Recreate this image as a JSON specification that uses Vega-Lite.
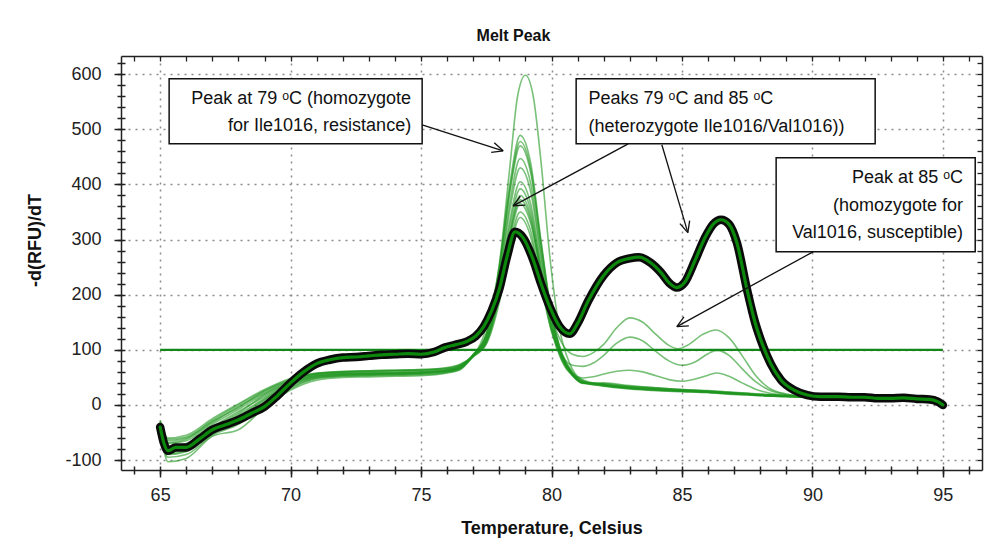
{
 "$schema": "https://vega.github.io/schema/vega-lite/v6.json",
 "width": 861, "height": 414,
 "autosize": {"type": "none"},
 "padding": {"left": 121, "top": 56, "right": 20, "bottom": 82},
 "background": "white",
 "config": {"view": {"stroke": null}, "font": "Liberation Sans"},
 "title": {"text": "Melt Peak", "fontSize": 16, "fontWeight": "bold", "font": "Liberation Sans", "color": "#111", "anchor": "middle", "dx": -38, "offset": -2, "baseline": "alphabetic"},
 "datasets": {
  "light": [
   {"s":"L1","t":65,"v":-28},{"s":"L1","t":65.3,"v":-60},{"s":"L1","t":66,"v":-55},{"s":"L1","t":67,"v":-25},{"s":"L1","t":68,"v":2},{"s":"L1","t":69,"v":28},{"s":"L1","t":70,"v":48},{"s":"L1","t":71,"v":58},{"s":"L1","t":72,"v":60},{"s":"L1","t":73,"v":61},{"s":"L1","t":74,"v":62},{"s":"L1","t":75,"v":63},{"s":"L1","t":76,"v":66},{"s":"L1","t":76.5,"v":72},{"s":"L1","t":77,"v":88},{"s":"L1","t":77.5,"v":140},{"s":"L1","t":78,"v":255},{"s":"L1","t":78.4,"v":430},{"s":"L1","t":78.7,"v":560},{"s":"L1","t":79,"v":598},{"s":"L1","t":79.3,"v":560},{"s":"L1","t":79.6,"v":440},{"s":"L1","t":79.95,"v":263},{"s":"L1","t":80.3,"v":140},{"s":"L1","t":80.7,"v":75},{"s":"L1","t":81.1,"v":48},{"s":"L1","t":82,"v":36},{"s":"L1","t":83,"v":31},{"s":"L1","t":84,"v":28},{"s":"L1","t":85,"v":26},{"s":"L1","t":86,"v":24},{"s":"L1","t":87,"v":21},{"s":"L1","t":88,"v":18},{"s":"L1","t":89,"v":16},{"s":"L1","t":90,"v":14},{"s":"L1","t":92,"v":12},{"s":"L1","t":94,"v":10},{"s":"L1","t":95,"v":6},

   {"s":"L2","t":65,"v":-35},{"s":"L2","t":65.3,"v":-70},{"s":"L2","t":66,"v":-65},{"s":"L2","t":67,"v":-35},{"s":"L2","t":68,"v":-8},{"s":"L2","t":69,"v":20},{"s":"L2","t":70,"v":42},{"s":"L2","t":71,"v":55},{"s":"L2","t":72,"v":58},{"s":"L2","t":73,"v":58},{"s":"L2","t":74,"v":59},{"s":"L2","t":75,"v":60},{"s":"L2","t":76,"v":64},{"s":"L2","t":76.5,"v":70},{"s":"L2","t":77,"v":92},{"s":"L2","t":77.5,"v":129},{"s":"L2","t":78,"v":252},{"s":"L2","t":78.4,"v":399},{"s":"L2","t":78.8,"v":489},{"s":"L2","t":79.2,"v":439},{"s":"L2","t":79.6,"v":298},{"s":"L2","t":80,"v":167},{"s":"L2","t":80.4,"v":94},{"s":"L2","t":80.8,"v":60},{"s":"L2","t":81.2,"v":44},{"s":"L2","t":82,"v":35},{"s":"L2","t":83,"v":30},{"s":"L2","t":84,"v":27},{"s":"L2","t":85,"v":25},{"s":"L2","t":86,"v":23},{"s":"L2","t":87,"v":20},{"s":"L2","t":88,"v":17},{"s":"L2","t":89,"v":15},{"s":"L2","t":90,"v":13},{"s":"L2","t":92,"v":11},{"s":"L2","t":94,"v":9},{"s":"L2","t":95,"v":5},

   {"s":"L3","t":65,"v":-40},{"s":"L3","t":65.3,"v":-80},{"s":"L3","t":66,"v":-75},{"s":"L3","t":67,"v":-45},{"s":"L3","t":68,"v":-18},{"s":"L3","t":69,"v":12},{"s":"L3","t":70,"v":38},{"s":"L3","t":71,"v":52},{"s":"L3","t":72,"v":55},{"s":"L3","t":73,"v":56},{"s":"L3","t":74,"v":57},{"s":"L3","t":75,"v":58},{"s":"L3","t":76,"v":62},{"s":"L3","t":76.5,"v":68},{"s":"L3","t":77,"v":91},{"s":"L3","t":77.5,"v":128},{"s":"L3","t":78,"v":247},{"s":"L3","t":78.4,"v":390},{"s":"L3","t":78.8,"v":478},{"s":"L3","t":79.2,"v":429},{"s":"L3","t":79.6,"v":292},{"s":"L3","t":80,"v":165},{"s":"L3","t":80.4,"v":92},{"s":"L3","t":80.8,"v":58},{"s":"L3","t":81.2,"v":43},{"s":"L3","t":82,"v":37},{"s":"L3","t":83,"v":32},{"s":"L3","t":84,"v":29},{"s":"L3","t":85,"v":27},{"s":"L3","t":86,"v":24},{"s":"L3","t":87,"v":21},{"s":"L3","t":88,"v":18},{"s":"L3","t":89,"v":16},{"s":"L3","t":90,"v":14},{"s":"L3","t":92,"v":12},{"s":"L3","t":94,"v":10},{"s":"L3","t":95,"v":6},

   {"s":"L4","t":65,"v":-45},{"s":"L4","t":65.3,"v":-95},{"s":"L4","t":66,"v":-90},{"s":"L4","t":67,"v":-55},{"s":"L4","t":68,"v":-35},{"s":"L4","t":69,"v":0},{"s":"L4","t":70,"v":30},{"s":"L4","t":71,"v":48},{"s":"L4","t":72,"v":52},{"s":"L4","t":73,"v":53},{"s":"L4","t":74,"v":54},{"s":"L4","t":75,"v":56},{"s":"L4","t":76,"v":60},{"s":"L4","t":76.5,"v":66},{"s":"L4","t":77,"v":91},{"s":"L4","t":77.5,"v":127},{"s":"L4","t":78,"v":244},{"s":"L4","t":78.4,"v":384},{"s":"L4","t":78.8,"v":470},{"s":"L4","t":79.2,"v":422},{"s":"L4","t":79.6,"v":288},{"s":"L4","t":80,"v":163},{"s":"L4","t":80.4,"v":91},{"s":"L4","t":80.8,"v":58},{"s":"L4","t":81.2,"v":42},{"s":"L4","t":82,"v":34},{"s":"L4","t":83,"v":29},{"s":"L4","t":84,"v":26},{"s":"L4","t":85,"v":24},{"s":"L4","t":86,"v":22},{"s":"L4","t":87,"v":19},{"s":"L4","t":88,"v":17},{"s":"L4","t":89,"v":15},{"s":"L4","t":90,"v":13},{"s":"L4","t":92,"v":11},{"s":"L4","t":94,"v":9},{"s":"L4","t":95,"v":5},

   {"s":"L5","t":65,"v":-38},{"s":"L5","t":65.3,"v":-103},{"s":"L5","t":66,"v":-97},{"s":"L5","t":67,"v":-57},{"s":"L5","t":68,"v":-45},{"s":"L5","t":69,"v":-5},{"s":"L5","t":70,"v":27},{"s":"L5","t":71,"v":45},{"s":"L5","t":72,"v":50},{"s":"L5","t":73,"v":51},{"s":"L5","t":74,"v":52},{"s":"L5","t":75,"v":53},{"s":"L5","t":76,"v":58},{"s":"L5","t":76.5,"v":64},{"s":"L5","t":77,"v":90},{"s":"L5","t":77.5,"v":124},{"s":"L5","t":78,"v":234},{"s":"L5","t":78.4,"v":366},{"s":"L5","t":78.8,"v":447},{"s":"L5","t":79.2,"v":402},{"s":"L5","t":79.6,"v":275},{"s":"L5","t":80,"v":157},{"s":"L5","t":80.4,"v":89},{"s":"L5","t":80.8,"v":56},{"s":"L5","t":81.2,"v":41},{"s":"L5","t":82,"v":38},{"s":"L5","t":83,"v":33},{"s":"L5","t":84,"v":30},{"s":"L5","t":85,"v":27},{"s":"L5","t":86,"v":25},{"s":"L5","t":87,"v":22},{"s":"L5","t":88,"v":19},{"s":"L5","t":89,"v":17},{"s":"L5","t":90,"v":15},{"s":"L5","t":92,"v":12},{"s":"L5","t":94,"v":10},{"s":"L5","t":95,"v":7},

   {"s":"L6","t":65,"v":-30},{"s":"L6","t":65.3,"v":-65},{"s":"L6","t":66,"v":-60},{"s":"L6","t":67,"v":-30},{"s":"L6","t":68,"v":-5},{"s":"L6","t":69,"v":25},{"s":"L6","t":70,"v":45},{"s":"L6","t":71,"v":57},{"s":"L6","t":72,"v":60},{"s":"L6","t":73,"v":62},{"s":"L6","t":74,"v":63},{"s":"L6","t":75,"v":64},{"s":"L6","t":76,"v":67},{"s":"L6","t":76.5,"v":73},{"s":"L6","t":77,"v":90},{"s":"L6","t":77.5,"v":122},{"s":"L6","t":78,"v":227},{"s":"L6","t":78.4,"v":353},{"s":"L6","t":78.8,"v":430},{"s":"L6","t":79.2,"v":387},{"s":"L6","t":79.6,"v":266},{"s":"L6","t":80,"v":152},{"s":"L6","t":80.4,"v":88},{"s":"L6","t":80.8,"v":56},{"s":"L6","t":81.2,"v":41},{"s":"L6","t":82,"v":36},{"s":"L6","t":83,"v":31},{"s":"L6","t":84,"v":27},{"s":"L6","t":85,"v":25},{"s":"L6","t":86,"v":23},{"s":"L6","t":87,"v":20},{"s":"L6","t":88,"v":18},{"s":"L6","t":89,"v":16},{"s":"L6","t":90,"v":14},{"s":"L6","t":92,"v":12},{"s":"L6","t":94,"v":10},{"s":"L6","t":95,"v":6},

   {"s":"L7","t":65,"v":-42},{"s":"L7","t":65.3,"v":-85},{"s":"L7","t":66,"v":-80},{"s":"L7","t":67,"v":-50},{"s":"L7","t":68,"v":-25},{"s":"L7","t":69,"v":8},{"s":"L7","t":70,"v":35},{"s":"L7","t":71,"v":50},{"s":"L7","t":72,"v":54},{"s":"L7","t":73,"v":55},{"s":"L7","t":74,"v":56},{"s":"L7","t":75,"v":57},{"s":"L7","t":76,"v":61},{"s":"L7","t":76.5,"v":67},{"s":"L7","t":77,"v":89},{"s":"L7","t":77.5,"v":119},{"s":"L7","t":78,"v":217},{"s":"L7","t":78.4,"v":334},{"s":"L7","t":78.8,"v":405},{"s":"L7","t":79.2,"v":365},{"s":"L7","t":79.6,"v":252},{"s":"L7","t":80,"v":146},{"s":"L7","t":80.4,"v":86},{"s":"L7","t":80.8,"v":55},{"s":"L7","t":81.2,"v":40},{"s":"L7","t":82,"v":39},{"s":"L7","t":83,"v":34},{"s":"L7","t":84,"v":31},{"s":"L7","t":85,"v":28},{"s":"L7","t":86,"v":25},{"s":"L7","t":87,"v":22},{"s":"L7","t":88,"v":19},{"s":"L7","t":89,"v":17},{"s":"L7","t":90,"v":15},{"s":"L7","t":92,"v":13},{"s":"L7","t":94,"v":11},{"s":"L7","t":95,"v":7},

   {"s":"L8","t":65,"v":-36},{"s":"L8","t":65.3,"v":-75},{"s":"L8","t":66,"v":-70},{"s":"L8","t":67,"v":-40},{"s":"L8","t":68,"v":-12},{"s":"L8","t":69,"v":15},{"s":"L8","t":70,"v":40},{"s":"L8","t":71,"v":53},{"s":"L8","t":72,"v":56},{"s":"L8","t":73,"v":57},{"s":"L8","t":74,"v":58},{"s":"L8","t":75,"v":59},{"s":"L8","t":76,"v":63},{"s":"L8","t":76.5,"v":69},{"s":"L8","t":77,"v":89},{"s":"L8","t":77.5,"v":117},{"s":"L8","t":78,"v":211},{"s":"L8","t":78.4,"v":323},{"s":"L8","t":78.8,"v":392},{"s":"L8","t":79.2,"v":353},{"s":"L8","t":79.6,"v":245},{"s":"L8","t":80,"v":143},{"s":"L8","t":80.4,"v":85},{"s":"L8","t":80.8,"v":55},{"s":"L8","t":81.2,"v":40},{"s":"L8","t":82,"v":35},{"s":"L8","t":83,"v":30},{"s":"L8","t":84,"v":27},{"s":"L8","t":85,"v":25},{"s":"L8","t":86,"v":23},{"s":"L8","t":87,"v":21},{"s":"L8","t":88,"v":18},{"s":"L8","t":89,"v":16},{"s":"L8","t":90,"v":14},{"s":"L8","t":92,"v":12},{"s":"L8","t":94,"v":10},{"s":"L8","t":95,"v":6},

   {"s":"L9","t":65,"v":-33},{"s":"L9","t":65.3,"v":-68},{"s":"L9","t":66,"v":-62},{"s":"L9","t":67,"v":-32},{"s":"L9","t":68,"v":-3},{"s":"L9","t":69,"v":22},{"s":"L9","t":70,"v":44},{"s":"L9","t":71,"v":56},{"s":"L9","t":72,"v":59},{"s":"L9","t":73,"v":60},{"s":"L9","t":74,"v":61},{"s":"L9","t":75,"v":62},{"s":"L9","t":76,"v":65},{"s":"L9","t":76.5,"v":71},{"s":"L9","t":77,"v":88},{"s":"L9","t":77.5,"v":115},{"s":"L9","t":78,"v":203},{"s":"L9","t":78.4,"v":308},{"s":"L9","t":78.8,"v":372},{"s":"L9","t":79.2,"v":336},{"s":"L9","t":79.6,"v":234},{"s":"L9","t":80,"v":138},{"s":"L9","t":80.4,"v":83},{"s":"L9","t":80.8,"v":54},{"s":"L9","t":81.2,"v":40},{"s":"L9","t":82,"v":37},{"s":"L9","t":83,"v":32},{"s":"L9","t":84,"v":29},{"s":"L9","t":85,"v":26},{"s":"L9","t":86,"v":24},{"s":"L9","t":87,"v":21},{"s":"L9","t":88,"v":18},{"s":"L9","t":89,"v":16},{"s":"L9","t":90,"v":14},{"s":"L9","t":92,"v":12},{"s":"L9","t":94,"v":10},{"s":"L9","t":95,"v":6},

   {"s":"L10","t":65,"v":-44},{"s":"L10","t":65.3,"v":-90},{"s":"L10","t":66,"v":-85},{"s":"L10","t":67,"v":-52},{"s":"L10","t":68,"v":-30},{"s":"L10","t":69,"v":3},{"s":"L10","t":70,"v":32},{"s":"L10","t":71,"v":49},{"s":"L10","t":72,"v":53},{"s":"L10","t":73,"v":54},{"s":"L10","t":74,"v":55},{"s":"L10","t":75,"v":55},{"s":"L10","t":76,"v":59},{"s":"L10","t":76.5,"v":65},{"s":"L10","t":77,"v":88},{"s":"L10","t":77.5,"v":112},{"s":"L10","t":78,"v":193},{"s":"L10","t":78.4,"v":291},{"s":"L10","t":78.8,"v":350},{"s":"L10","t":79.2,"v":316},{"s":"L10","t":79.6,"v":222},{"s":"L10","t":80,"v":133},{"s":"L10","t":80.4,"v":81},{"s":"L10","t":80.8,"v":53},{"s":"L10","t":81.2,"v":39},{"s":"L10","t":82,"v":40},{"s":"L10","t":83,"v":35},{"s":"L10","t":84,"v":31},{"s":"L10","t":85,"v":28},{"s":"L10","t":86,"v":26},{"s":"L10","t":87,"v":23},{"s":"L10","t":88,"v":20},{"s":"L10","t":89,"v":17},{"s":"L10","t":90,"v":15},{"s":"L10","t":92,"v":13},{"s":"L10","t":94,"v":11},{"s":"L10","t":95,"v":7},

   {"s":"B1","t":65,"v":-39},{"s":"B1","t":65.3,"v":-78},{"s":"B1","t":66,"v":-72},{"s":"B1","t":67,"v":-42},{"s":"B1","t":68,"v":-15},{"s":"B1","t":69,"v":18},{"s":"B1","t":70,"v":40},{"s":"B1","t":71,"v":54},{"s":"B1","t":72,"v":57},{"s":"B1","t":73,"v":58},{"s":"B1","t":74,"v":58},{"s":"B1","t":75,"v":60},{"s":"B1","t":76,"v":63},{"s":"B1","t":76.5,"v":69},{"s":"B1","t":77,"v":89},{"s":"B1","t":77.5,"v":114},{"s":"B1","t":78,"v":200},{"s":"B1","t":78.4,"v":302},{"s":"B1","t":78.8,"v":365},{"s":"B1","t":79.2,"v":330},{"s":"B1","t":79.6,"v":240},{"s":"B1","t":80,"v":160},{"s":"B1","t":80.4,"v":112},{"s":"B1","t":80.8,"v":92},{"s":"B1","t":81.2,"v":88},{"s":"B1","t":81.6,"v":95},{"s":"B1","t":82,"v":110},{"s":"B1","t":82.5,"v":140},{"s":"B1","t":83,"v":158},{"s":"B1","t":83.5,"v":150},{"s":"B1","t":84,"v":128},{"s":"B1","t":84.5,"v":108},{"s":"B1","t":84.85,"v":102},{"s":"B1","t":85.2,"v":108},{"s":"B1","t":85.8,"v":128},{"s":"B1","t":86.3,"v":136},{"s":"B1","t":86.8,"v":122},{"s":"B1","t":87.3,"v":90},{"s":"B1","t":87.8,"v":55},{"s":"B1","t":88.3,"v":32},{"s":"B1","t":89,"v":20},{"s":"B1","t":90,"v":15},{"s":"B1","t":92,"v":12},{"s":"B1","t":94,"v":10},{"s":"B1","t":95,"v":5},

   {"s":"B2","t":65,"v":-31},{"s":"B2","t":65.3,"v":-62},{"s":"B2","t":66,"v":-58},{"s":"B2","t":67,"v":-28},{"s":"B2","t":68,"v":0},{"s":"B2","t":69,"v":26},{"s":"B2","t":70,"v":46},{"s":"B2","t":71,"v":57},{"s":"B2","t":72,"v":61},{"s":"B2","t":73,"v":62},{"s":"B2","t":74,"v":63},{"s":"B2","t":75,"v":64},{"s":"B2","t":76,"v":68},{"s":"B2","t":76.5,"v":74},{"s":"B2","t":77,"v":88},{"s":"B2","t":77.5,"v":110},{"s":"B2","t":78,"v":186},{"s":"B2","t":78.4,"v":282},{"s":"B2","t":78.8,"v":340},{"s":"B2","t":79.2,"v":305},{"s":"B2","t":79.6,"v":215},{"s":"B2","t":80,"v":135},{"s":"B2","t":80.4,"v":90},{"s":"B2","t":80.8,"v":72},{"s":"B2","t":81.2,"v":70},{"s":"B2","t":81.6,"v":76},{"s":"B2","t":82,"v":90},{"s":"B2","t":82.5,"v":112},{"s":"B2","t":83,"v":123},{"s":"B2","t":83.5,"v":116},{"s":"B2","t":84,"v":97},{"s":"B2","t":84.5,"v":80},{"s":"B2","t":85,"v":72},{"s":"B2","t":85.5,"v":78},{"s":"B2","t":86,"v":93},{"s":"B2","t":86.35,"v":99},{"s":"B2","t":86.8,"v":90},{"s":"B2","t":87.3,"v":66},{"s":"B2","t":87.8,"v":43},{"s":"B2","t":88.3,"v":28},{"s":"B2","t":89,"v":19},{"s":"B2","t":90,"v":15},{"s":"B2","t":92,"v":12},{"s":"B2","t":94,"v":10},{"s":"B2","t":95,"v":5},

   {"s":"B3","t":65,"v":-37},{"s":"B3","t":65.3,"v":-88},{"s":"B3","t":66,"v":-83},{"s":"B3","t":67,"v":-48},{"s":"B3","t":68,"v":-22},{"s":"B3","t":69,"v":10},{"s":"B3","t":70,"v":36},{"s":"B3","t":71,"v":51},{"s":"B3","t":72,"v":55},{"s":"B3","t":73,"v":56},{"s":"B3","t":74,"v":57},{"s":"B3","t":75,"v":58},{"s":"B3","t":76,"v":61},{"s":"B3","t":76.5,"v":67},{"s":"B3","t":77,"v":89},{"s":"B3","t":77.5,"v":115},{"s":"B3","t":78,"v":206},{"s":"B3","t":78.4,"v":312},{"s":"B3","t":78.8,"v":380},{"s":"B3","t":79.2,"v":343},{"s":"B3","t":79.6,"v":238},{"s":"B3","t":80,"v":140},{"s":"B3","t":80.4,"v":80},{"s":"B3","t":80.8,"v":55},{"s":"B3","t":81.2,"v":49},{"s":"B3","t":81.6,"v":51},{"s":"B3","t":82,"v":56},{"s":"B3","t":82.5,"v":61},{"s":"B3","t":83,"v":63},{"s":"B3","t":83.5,"v":60},{"s":"B3","t":84,"v":53},{"s":"B3","t":84.5,"v":46},{"s":"B3","t":85,"v":43},{"s":"B3","t":85.5,"v":47},{"s":"B3","t":86,"v":54},{"s":"B3","t":86.35,"v":58},{"s":"B3","t":86.8,"v":52},{"s":"B3","t":87.3,"v":40},{"s":"B3","t":87.8,"v":29},{"s":"B3","t":88.3,"v":22},{"s":"B3","t":89,"v":17},{"s":"B3","t":90,"v":14},{"s":"B3","t":92,"v":12},{"s":"B3","t":94,"v":10},{"s":"B3","t":95,"v":5}
  ],
  "bold": [
   {"t":65,"v":-40},{"t":65.15,"v":-70},{"t":65.3,"v":-83},{"t":65.6,"v":-77},{"t":66,"v":-77},{"t":66.5,"v":-62},{"t":67,"v":-45},{"t":67.5,"v":-36},{"t":68,"v":-27},{"t":68.5,"v":-15},{"t":69,"v":-3},{"t":69.5,"v":17},{"t":70,"v":40},{"t":70.5,"v":60},{"t":71,"v":75},{"t":71.5,"v":82},{"t":72,"v":86},{"t":72.5,"v":87},{"t":73,"v":89},{"t":73.5,"v":91},{"t":74,"v":92},{"t":74.5,"v":93},{"t":75,"v":92},{"t":75.5,"v":96},{"t":75.9,"v":104},{"t":76.3,"v":109},{"t":76.75,"v":115},{"t":77.1,"v":125},{"t":77.4,"v":142},{"t":77.7,"v":170},{"t":78,"v":210},{"t":78.3,"v":270},{"t":78.6,"v":314},{"t":78.9,"v":304},{"t":79.3,"v":263},{"t":79.6,"v":220},{"t":79.95,"v":176},{"t":80.3,"v":143},{"t":80.7,"v":129},{"t":81,"v":148},{"t":81.4,"v":188},{"t":82,"v":235},{"t":82.5,"v":258},{"t":83,"v":266},{"t":83.35,"v":268},{"t":83.8,"v":258},{"t":84.2,"v":240},{"t":84.5,"v":222},{"t":84.8,"v":213},{"t":85.1,"v":222},{"t":85.5,"v":262},{"t":85.9,"v":305},{"t":86.2,"v":328},{"t":86.5,"v":336},{"t":86.8,"v":328},{"t":87.1,"v":295},{"t":87.5,"v":208},{"t":87.8,"v":150},{"t":88.1,"v":108},{"t":88.4,"v":75},{"t":88.8,"v":45},{"t":89.3,"v":27},{"t":89.8,"v":18},{"t":90.3,"v":15},{"t":91,"v":15},{"t":91.5,"v":14},{"t":92,"v":14},{"t":92.5,"v":12},{"t":93,"v":12},{"t":93.5,"v":13},{"t":94,"v":11},{"t":94.5,"v":10},{"t":94.8,"v":6},{"t":95,"v":0}
  ],
  "hline": [{"t":65,"t2":95,"v":100}],
  "boxes": [
   {"t":65.345,"t2":75.042,"v":591.7,"v2":473.7},
   {"t":80.945,"t2":92.405,"v":591.7,"v2":473.7},
   {"t":88.61,"t2":96.24,"v":448.3,"v2":277.7}
  ],
  "arrows": [
   {"t":75.042,"v":508.2,"t2":78.147,"v2":461.0},
   {"t":78.147,"v":461.0,"t2":77.806,"v2":475.7},
   {"t":78.147,"v":461.0,"t2":77.691,"v2":458.1},
   {"t":82.938,"v":473.7,"t2":78.530,"v2":361.2},
   {"t":78.530,"v":361.2,"t2":78.990,"v2":362.4},
   {"t":78.530,"v":361.2,"t2":78.806,"v2":378.6},
   {"t":84.229,"v":471.9,"t2":85.226,"v2":312.7},
   {"t":85.226,"v":312.7,"t2":85.295,"v2":334.3},
   {"t":85.226,"v":312.7,"t2":84.923,"v2":329.0},
   {"t":90.040,"v":278.2,"t2":84.805,"v2":142.1},
   {"t":84.805,"v":142.1,"t2":85.264,"v2":143.6},
   {"t":84.805,"v":142.1,"t2":85.077,"v2":159.7}
  ],
  "notes": [
   {"t":74.62,"v":554.8,"txt":"Peak at 79 ᵒC (homozygote","side":"r"},
   {"t":74.62,"v":506.4,"txt":"for Ile1016, resistance)","side":"r"},
   {"t":81.42,"v":554.8,"txt":"Peaks 79 ᵒC and 85 ᵒC","side":"l"},
   {"t":81.42,"v":505.0,"txt":"(heterozygote Ile1016/Val1016))","side":"l"},
   {"t":95.77,"v":411.4,"txt":"Peak at 85 ᵒC","side":"r"},
   {"t":95.77,"v":361.2,"txt":"(homozygote for","side":"r"},
   {"t":95.77,"v":312.7,"txt":"Val1016, susceptible)","side":"r"}
  ]
 },
 "resolve": {"axis": {"x": "independent", "y": "independent"}},
 "layer": [
  {
   "data": {"name": "light"},
   "mark": {"type": "line", "interpolate": "monotone", "stroke": "#1f961f", "strokeWidth": 1.6, "opacity": 0.6},
   "encoding": {
    "x": {"field": "t", "type": "quantitative", "scale": {"domain": [63.5, 96.5], "nice": false, "zero": false},
     "axis": {"orient": "bottom", "values": [65,70,75,80,85,90,95], "title": "Temperature, Celsius", "grid": true, "gridDash": [2,5], "gridColor": "#8c8c8c", "gridWidth": 1.5, "tickSize": 7, "tickColor": "#222", "tickWidth": 1.5, "domainColor": "#222", "domainWidth": 1.5, "labelFont": "Liberation Sans", "labelFontSize": 18, "labelColor": "#222", "labelPadding": 9, "labelFlush": false, "labelOverlap": false, "titleFont": "Liberation Sans", "titleFontSize": 18, "titleFontWeight": "bold", "titleColor": "#111", "titleY": 58, "titleBaseline": "middle"}},
    "y": {"field": "v", "type": "quantitative", "scale": {"domain": [-118, 633], "nice": false, "zero": false},
     "axis": {"orient": "left", "values": [-100,0,100,200,300,400,500,600], "labelExpr": "datum.value < 0 ? '-' + (-datum.value) : '' + datum.value", "title": "-d(RFU)/dT", "grid": true, "gridDash": [2,5], "gridColor": "#8c8c8c", "gridWidth": 1.5, "tickSize": 7, "tickColor": "#222", "tickWidth": 1.5, "domainColor": "#222", "domainWidth": 1.5, "labelFont": "Liberation Sans", "labelFontSize": 18, "labelColor": "#222", "labelPadding": 13, "labelFlush": false, "labelOverlap": false, "titleFont": "Liberation Sans", "titleFontSize": 18, "titleFontWeight": "bold", "titleColor": "#111", "titleX": -86, "titleY": 184, "titleBaseline": "middle"}},
    "detail": {"field": "s", "type": "nominal"}
   }
  },
  {
   "data": {"name": "hline"},
   "mark": {"type": "rule", "stroke": "#13871a", "strokeWidth": 2.2},
   "encoding": {
    "x": {"field": "t", "type": "quantitative", "scale": {"domain": [63.5, 96.5], "nice": false, "zero": false},
     "axis": {"orient": "top", "values": [64,65,66,67,68,69,70,71,72,73,74,75,76,77,78,79,80,81,82,83,84,85,86,87,88,89,90,91,92,93,94,95,96], "title": null, "labels": false, "grid": false, "tickSize": -5, "tickColor": "#222", "tickWidth": 1.3, "domainColor": "#222", "domainWidth": 1.5}},
    "x2": {"field": "t2"},
    "y": {"field": "v", "type": "quantitative", "scale": {"domain": [-118, 633], "nice": false, "zero": false},
     "axis": {"orient": "right", "values": [-100,-80,-60,-40,-20,0,20,40,60,80,100,120,140,160,180,200,220,240,260,280,300,320,340,360,380,400,420,440,460,480,500,520,540,560,580,600,620], "title": null, "labels": false, "grid": false, "tickSize": -5, "tickColor": "#222", "tickWidth": 1.3, "domainColor": "#222", "domainWidth": 1.5}}
   }
  },
  {
   "data": {"name": "bold"},
   "mark": {"type": "line", "interpolate": "monotone", "stroke": "#0a0a0a", "strokeWidth": 8.5, "strokeJoin": "round", "strokeCap": "round"},
   "encoding": {
    "x": {"field": "t", "type": "quantitative", "scale": {"domain": [63.5, 96.5], "nice": false, "zero": false},
     "axis": {"orient": "bottom", "values": [64,65,66,67,68,69,70,71,72,73,74,75,76,77,78,79,80,81,82,83,84,85,86,87,88,89,90,91,92,93,94,95,96], "title": null, "labels": false, "grid": false, "domain": false, "tickSize": 4, "tickColor": "#222", "tickWidth": 1.5}},
    "y": {"field": "v", "type": "quantitative", "scale": {"domain": [-118, 633], "nice": false, "zero": false},
     "axis": {"orient": "left", "values": [-100,-80,-60,-40,-20,0,20,40,60,80,100,120,140,160,180,200,220,240,260,280,300,320,340,360,380,400,420,440,460,480,500,520,540,560,580,600,620], "title": null, "labels": false, "grid": false, "domain": false, "tickSize": 4, "tickColor": "#222", "tickWidth": 1.5}}
   }
  },
  {
   "data": {"name": "bold"},
   "mark": {"type": "line", "interpolate": "monotone", "stroke": "#0b870b", "strokeWidth": 3.2, "strokeJoin": "round", "strokeCap": "round"},
   "encoding": {
    "x": {"field": "t", "type": "quantitative", "scale": {"domain": [63.5, 96.5], "nice": false, "zero": false},
     "axis": {"orient": "bottom", "values": [64,65,66,67,68,69,70,71,72,73,74,75,76,77,78,79,80,81,82,83,84,85,86,87,88,89,90,91,92,93,94,95,96], "title": null, "labels": false, "grid": false, "domain": false, "tickSize": -4, "tickColor": "#222", "tickWidth": 1.5}},
    "y": {"field": "v", "type": "quantitative", "scale": {"domain": [-118, 633], "nice": false, "zero": false},
     "axis": {"orient": "left", "values": [-100,-80,-60,-40,-20,0,20,40,60,80,100,120,140,160,180,200,220,240,260,280,300,320,340,360,380,400,420,440,460,480,500,520,540,560,580,600,620], "title": null, "labels": false, "grid": false, "domain": false, "tickSize": -4, "tickColor": "#222", "tickWidth": 1.5}}
   }
  },
  {
   "data": {"name": "boxes"},
   "mark": {"type": "rect", "fill": "white", "stroke": "#111", "strokeWidth": 1.5},
   "encoding": {
    "x": {"field": "t", "type": "quantitative", "axis": null},
    "x2": {"field": "t2"},
    "y": {"field": "v", "type": "quantitative", "axis": null},
    "y2": {"field": "v2"}
   }
  },
  {
   "data": {"name": "arrows"},
   "mark": {"type": "rule", "stroke": "#111", "strokeWidth": 1.3},
   "encoding": {
    "x": {"field": "t", "type": "quantitative", "axis": null},
    "x2": {"field": "t2"},
    "y": {"field": "v", "type": "quantitative", "axis": null},
    "y2": {"field": "v2"}
   }
  },
  {
   "data": {"name": "notes"},
   "transform": [{"filter": "datum.side === 'r'"}],
   "mark": {"type": "text", "align": "right", "baseline": "middle", "font": "Liberation Sans", "fontSize": 18, "color": "#111"},
   "encoding": {
    "x": {"field": "t", "type": "quantitative", "axis": null},
    "y": {"field": "v", "type": "quantitative", "axis": null},
    "text": {"field": "txt"}
   }
  },
  {
   "data": {"name": "notes"},
   "transform": [{"filter": "datum.side === 'l'"}],
   "mark": {"type": "text", "align": "left", "baseline": "middle", "font": "Liberation Sans", "fontSize": 18, "color": "#111"},
   "encoding": {
    "x": {"field": "t", "type": "quantitative", "axis": null},
    "y": {"field": "v", "type": "quantitative", "axis": null},
    "text": {"field": "txt"}
   }
  }
 ]
}
